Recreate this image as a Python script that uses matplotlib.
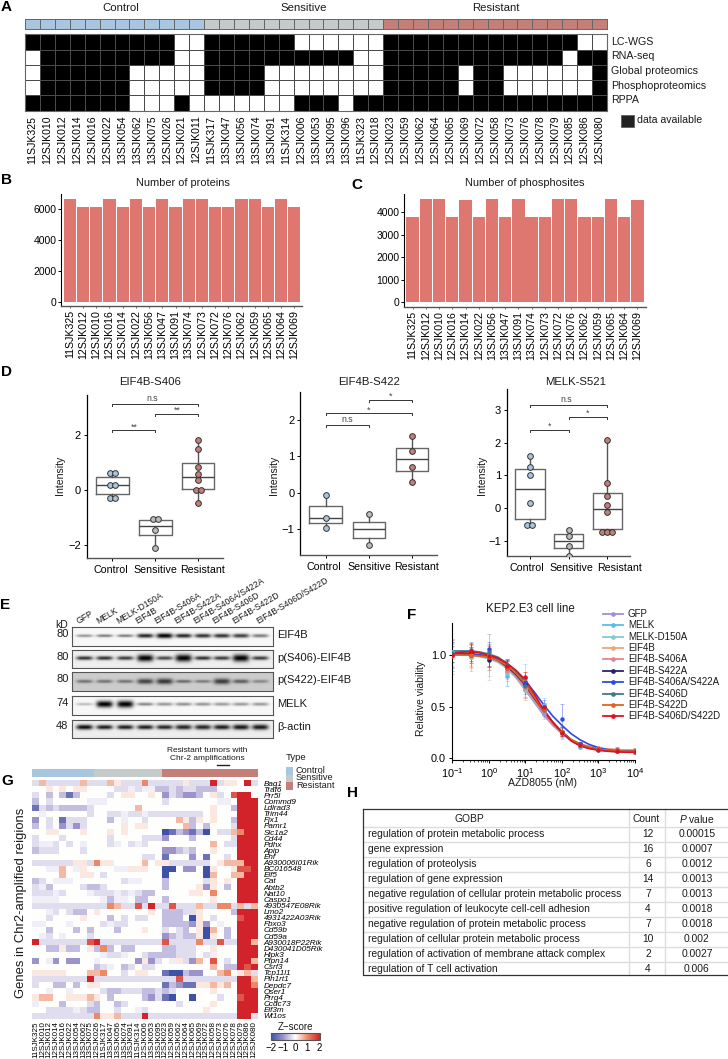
import numpy as np
import matplotlib
matplotlib.use("Agg")
import matplotlib.pyplot as plt
from matplotlib.colors import LinearSegmentedColormap, ListedColormap
from matplotlib.cm import ScalarMappable
from matplotlib.patches import Rectangle
from matplotlib.transforms import ScaledTranslation

plt.rcParams.update({
    "font.family": ["Liberation Sans", "DejaVu Sans"],
    "mathtext.fontset": "custom",
    "mathtext.rm": "Liberation Sans",
    "mathtext.it": "Liberation Sans:italic",
    "mathtext.bf": "Liberation Sans:bold",
    "mathtext.default": "regular",
    "text.color": "#1a1a1a",
})

W, H = 728, 1059

# ---------- data ----------
C_CTRL, C_SENS, C_RES = "#A9C6E0", "#C5CBCB", "#C57F79"

A_SAMPLES = ["11SJK325","12SJK010","12SJK012","12SJK014","12SJK016","12SJK022","13SJK054","13SJK062","13SJK075","12SJK026","12SJK021","12SJK011",
             "11SJK317","13SJK047","13SJK056","13SJK074","13SJK091","11SJK314","12SJK006","13SJK053","13SJK095","13SJK096","11SJK323","12SJK018",
             "12SJK023","12SJK059","12SJK062","12SJK064","12SJK065","12SJK069","12SJK072","12SJK058","12SJK073","12SJK076","12SJK078","12SJK079","12SJK085","12SJK086","12SJK080"]
A_GROUP = [0]*12 + [1]*12 + [2]*15
A_ROWS = ["LC-WGS", "RNA-seq", "Global proteomics", "Phosphoproteomics", "RPPA"]
A_WGS   = "111111111100" "111111000000" "111111111111100"
A_RNA   = "011111111100" "111111111100" "111111111111011"
A_PROT  = "011111100000" "111100000000" "111110110000001"
A_PHOS  = "011111100000" "111100000000" "111110110000001"
A_RPPA  = "111111100010" "000000111011" "111111111111111"

BC_SAMPLES = ["11SJK325","12SJK012","12SJK010","12SJK016","12SJK014","12SJK022","13SJK056","13SJK047","13SJK091","13SJK074",
              "12SJK073","12SJK072","12SJK076","12SJK062","12SJK059","12SJK065","12SJK064","12SJK069"]
B_PROTEINS = [6650,6120,6120,6650,6120,6650,6120,6650,6120,6650,6650,6120,6120,6650,6650,6120,6650,6120]
C_PHOSPHO = [3780,4580,4580,3780,4550,3770,4580,3780,4580,3780,3780,4580,4580,3780,3780,4580,3780,4550]

D_CATS = ["Control", "Sensitive", "Resistant"]
D1_PTS = [[0.63,0.63,0.18,0.18,-0.28,-0.28], [-1.07,-1.07,-1.47,-2.13], [1.85,1.5,0.85,0.6,0.35,0.0,0.0,-0.48]]
D1_BOX = [(-0.13,0.18,0.47), (-1.65,-1.3,-1.1), (0.03,0.47,1.0)]
D1_BRK = [(0,2,3.14,"n.s"), (1,2,2.79,"**"), (0,1,2.19,"**")]
D2_PTS = [[-0.06,-0.68,-0.96], [-0.57,-1.44], [1.55,1.14,0.71,0.30]]
D2_BOX = [(-0.82,-0.68,-0.37), (-1.23,-1.0,-0.8), (0.61,0.92,1.24)]
D2_BRK = [(1,2,2.56,"*"), (0,2,2.18,"*"), (0,1,1.87,"n.s")]
D3_PTS = [[1.6,1.24,1.02,0.14,-0.52,-0.52], [-0.68,-0.86,-1.15,-1.48], [2.08,0.77,0.38,0.08,-0.13,-0.72,-0.72,-0.72]]
D3_BOX = [(-0.33,0.58,1.2), (-1.23,-1.0,-0.8), (-0.65,-0.02,0.47)]
D3_BRK = [(0,2,3.14,"n.s"), (1,2,2.78,"*"), (0,1,2.4,"*")]

E_LANES = ["GFP","MELK","MELK-D150A","EIF4B","EIF4B-S406A","EIF4B-S422A","EIF4B-S406A/S422A","EIF4B-S406D","EIF4B-S422D","EIF4B-S406D/S422D"]
E_NAMES = ["EIF4B","p(S406)-EIF4B","p(S422)-EIF4B","MELK","β-actin"]
E_KD = ["80","80","80","74","48"]
E_BG = [0.97,0.93,0.80,0.97,0.93]
E_EIF4B = [0.40,0.50,0.50,0.85,1.00,0.85,0.80,0.80,0.75,0.50]
E_S406  = [0.80,0.80,0.75,1.00,0.70,1.00,0.80,0.75,1.00,0.75]
E_S422  = [0.45,0.45,0.45,0.68,0.75,0.50,0.42,0.72,0.55,0.35]
E_MELK  = [0.25,1.00,1.00,0.45,0.40,0.42,0.40,0.38,0.38,0.38]
E_ACTIN = [0.95,0.88,0.88,0.88,0.85,0.85,0.85,0.88,0.90,0.90]
E_THICK_EIF4B = [1.4,1.4,1.4,2.0,2.4,2.0,2.0,2.0,2.0,1.7]
E_THICK_S406  = [1.9,1.9,1.9,3.3,1.9,3.5,1.9,1.9,3.5,1.9]
E_THICK_S422  = [1.7,1.7,1.7,2.6,2.8,1.6,1.5,2.8,2.0,1.6]
E_THICK_MELK  = [1.3,3.2,3.4,1.6,1.6,1.6,1.6,1.6,1.6,1.6]
E_THICK_ACTIN = [2.4,2.2,2.2,2.2,2.2,2.4,2.4,2.4,2.6,2.6]

F_NAMES = ["GFP","MELK","MELK-D150A","EIF4B","EIF4B-S406A","EIF4B-S422A","EIF4B-S406A/S422A","EIF4B-S406D","EIF4B-S422D","EIF4B-S406D/S422D"]
F_COLORS = ["#A58CD6","#56BDEE","#84CBD0","#EFA57E","#E88189","#2D1F6B","#2E4BE0","#3F7A8C","#E2631F","#E0101F"]
F_DOSES = [0.1,0.316,1,3.16,10,31.6,100,316,1000,3162,10000]
F_MEANS = [
 [1.01,.98,.96,.85,.66,.43,.25,.13,.09,.08,.07],
 [1.03,1.0,1.0,.80,.75,.52,.25,.11,.08,.08,.06],
 [1.0,.98,.95,.83,.66,.46,.26,.13,.09,.08,.07],
 [1.02,1.0,.98,.87,.68,.47,.25,.14,.10,.09,.08],
 [1.0,.99,.97,.85,.68,.46,.26,.14,.10,.09,.08],
 [1.01,1.03,.95,.88,.72,.48,.26,.14,.09,.07,.07],
 [1.0,1.0,1.06,.87,.74,.50,.38,.14,.09,.08,.07],
 [1.02,1.05,1.03,.90,.70,.47,.26,.13,.09,.08,.07],
 [.99,1.0,.98,.87,.78,.48,.26,.13,.09,.08,.07],
 [1.0,1.04,.99,.89,.79,.50,.25,.13,.08,.07,.06],
]
F_ERRS = [
 [.12,.13,.08,.10,.08,.05,.06,.03,.02,.01,.01],
 [.10,.08,.20,.10,.16,.06,.05,.02,.01,.01,.01],
 [.08,.10,.09,.13,.07,.05,.04,.02,.01,.01,.01],
 [.14,.07,.22,.09,.10,.05,.04,.02,.02,.02,.02],
 [.12,.12,.08,.08,.11,.06,.05,.02,.02,.02,.02],
 [.08,.09,.07,.06,.06,.04,.04,.02,.01,.01,.01],
 [.13,.08,.07,.08,.06,.07,.15,.02,.01,.01,.01],
 [.09,.08,.08,.05,.08,.04,.03,.02,.01,.01,.01],
 [.17,.11,.12,.07,.06,.05,.04,.02,.01,.01,.02],
 [.15,.06,.10,.07,.05,.04,.03,.02,.01,.01,.02],
]
F_FIT_LOGDOSE = [-1,-.75,-.5,-.25,0,.25,.5,.75,1,1.25,1.5,1.75,2,2.25,2.5,2.75,3,3.25,3.5,3.75,4]
F_FITS = [
 [1.01,1.01,1.00,.99,.97,.94,.87,.78,.66,.54,.42,.32,.24,.175,.13,.105,.09,.08,.075,.07,.07],
 [1.02,1.02,1.01,1.0,.98,.95,.89,.81,.71,.59,.47,.35,.25,.175,.125,.10,.08,.07,.065,.06,.06],
 [1.00,1.00,.995,.985,.965,.93,.87,.78,.67,.55,.44,.33,.25,.18,.135,.105,.09,.08,.075,.07,.07],
 [1.02,1.02,1.01,1.0,.98,.95,.89,.81,.69,.57,.45,.34,.25,.185,.14,.115,.10,.09,.085,.08,.08],
 [1.01,1.01,1.0,.99,.975,.94,.88,.79,.68,.56,.44,.33,.25,.185,.14,.115,.10,.09,.085,.08,.08],
 [1.02,1.02,1.01,1.0,.985,.95,.89,.81,.71,.58,.46,.35,.26,.18,.135,.105,.09,.075,.07,.07,.07],
 [1.01,1.01,1.01,1.0,.99,.96,.91,.84,.75,.64,.52,.41,.32,.24,.18,.135,.105,.085,.075,.07,.065],
 [1.04,1.04,1.04,1.03,1.01,.98,.92,.84,.73,.60,.47,.35,.25,.18,.13,.10,.085,.075,.07,.065,.065],
 [1.0,1.0,1.0,.99,.98,.95,.90,.82,.72,.59,.46,.35,.255,.18,.135,.105,.09,.08,.075,.07,.07],
 [1.02,1.03,1.03,1.02,1.0,.97,.92,.85,.76,.62,.47,.35,.25,.17,.12,.095,.08,.07,.065,.06,.06],
]

G_SAMPLES = ["11SJK325","12SJK010","12SJK012","12SJK014","12SJK016","12SJK022","13SJK054","13SJK062","13SJK075",
             "12SJK026","11SJK317","13SJK047","13SJK056","13SJK074","13SJK091","11SJK314","12SJK006","13SJK053","13SJK095",
             "12SJK023","12SJK059","12SJK062","12SJK064","12SJK065","12SJK069","12SJK072","12SJK058","12SJK073","12SJK076","12SJK078","12SJK079","12SJK086","12SJK080"]
G_GROUP = [0]*9 + [1]*10 + [2]*14
G_GENES = ["Bag1","Traf6","Prr5l","Commd9","Ldlrad3","Trim44","Fjx1","Pamr1","Slc1a2","Cd44","Pdhx","Apip","Ehf","A930006I01Rik","BC016548","Elf5","Cat","Abtb2","Nat10","Caspo1",
           "4930547E08Rik","Lmo2","4931422A03Rik","Fbxo3","Cd59b","Cd59a","A930018P22Rik","D430041D05Rik","Hipk3","Ptpn14","Csrf3","Tcp11l1","Pin1rt1","Depdc7","Qser1","Prrg4","Ccdc73","Eif3m","Wt1os"]
G_LEVELS = {"a":-2,"b":-1.5,"c":-1,"d":-.6,"e":-.3,"f":-.15,".":0,"g":.2,"h":.6,"i":1,"j":1.5,"k":2}
G_ROWS = [
 "eheeeeehe"+"eehgeeeiee"+"eeegeeekegg.ke",
 "..g.g.gg."+"...eefeffd"+"dedeeddd.....k"[:13]+".",
 "e.d.dbd.."+"..e.gg..g."+"cedccd.ge.jkk.",
 "d.e.....f"+"ff........"+"e.......ff.kkk",
 "bededddde"+"......h..."+".......g..dkkk",
 ".f......e"+"..eefeefee"+"eeeeee.g...kkk",
 "c.e.beee."+"..d.f..e.."+"..hgdg.g..dkkk",
 "d.e.cece."+"....g.gg.."+"...hd.d...ekkk",
 "..gg...g."+"..g.g....."+"abdcbda.eehikk",
 "e...e...."+"..e....eee"+"c...d.....ekkk",
 "effe.e.f."+"..ef.efe.."+".......h.eekkk",
 "deee...e."+".........."+"ccded..g...kkk",
 "........."+".......ee."+"b...c.b..e.kkk",
 "eeeeeegge"+"igg....h.g"+"geeeeee.ghhhkk",
 "..ffh.fg."+"...ffggg.."+"aa.cc.ag..gjjk",
 "....h..gg"+".e........"+"a.....ah..hhkk",
 "de.fff..."+"....eff..."+"d.....eg.g.kkk",
 "efd....ed"+"de........"+"d....gcg.d.kkk",
 "eeefe...f"+"eeefefedd."+"....gg.i...kkk",
 "ffff....."+".fdff.dd.."+"d......g...kkk",
 "eeeeeeeee"+"eeiheejeke"+"ejeeeheeiieheh",
 "..fe.edd."+"g.......g."+"dddeeg....dkkk",
 "..e....g."+"..d.e.ee.."+"ddd.ag.e...jkk",
 "ff...f..."+".efee....."+"ddddcgc.f..kkk",
 "..d...d.d"+"...d...g.."+"e.ed.gah.d.kkk",
 ".fe.f...e"+".........."+"cdeddgag.d.kkk",
 "keeeeeeej"+"keeeeeeeee"+"jeeeeieejeekkh",
 "..ddgdd.g"+"did.dd...."+"ddeee..g...kkk",
 "........."+".feef..edd"+"ddeee.ef...kkk",
 "c.fc.cc.."+"f.....cgce"+".fgech.j.e.kkh",
 "........."+"def.de.ee."+".......h.ddkjk",
 "ggggg...h"+"hi..e.gg.."+"baadcc..hi.ghe",
 "eeeeeeeek"+"eeeeeeeeee"+"eejeeeeeeeekkh",
 "e..dd.d.g"+"g........."+"bdcbbgghgh.kki",
 "..f..f..."+".eddeeedde"+"de.....g...kkk",
 "ghh..gggh"+"g.d....dce"+"ba..a...e..jkk",
 "f...d...e"+"d..de....."+"..e....g...kkk",
 "..eeeefed"+"d..e..fe.."+"......g....kkk",
 "eeeeeeeee"+"igghee" "ekee"+"eeeeeeeeeeekke",
]

H_TERMS = ["regulation of protein metabolic process","gene expression","regulation of proteolysis","regulation of gene expression",
           "negative regulation of cellular protein metabolic process","positive regulation of leukocyte cell-cell adhesion",
           "negative regulation of protein metabolic process","regulation of cellular protein metabolic process",
           "regulation of activation of membrane attack complex","regulation of T cell activation"]
H_COUNTS = [12,16,6,14,7,4,7,10,2,4]
H_PVALS = ["0.00015","0.0007","0.0012","0.0013","0.0013","0.0018","0.0018","0.002","0.0027","0.006"]

# ---------- helpers ----------
fig = plt.figure(figsize=(W/100, H/100), dpi=100, facecolor="white")

def axpx(x0, y0, x1, y1, **kw):
    return fig.add_axes([x0/W, 1-y1/H, (x1-x0)/W, (y1-y0)/H], **kw)

ov = axpx(0, 0, W, H, zorder=20)
ov.set_xlim(0, W); ov.set_ylim(H, 0); ov.axis("off"); ov.patch.set_alpha(0)

def label(x, y, s, size=7.6, ha="left", va="center", **kw):
    ov.text(x, y, s, fontsize=size, ha=ha, va=va, **kw)

for s, x, y in [("A",1,7),("B",1,180),("C",351,185),("D",1,372),("E",0,605),("F",407,615),("G",1,781),("H",347,793)]:
    label(x, y, s, size=11, fontweight="bold", color="black")

# ---------- A ----------
ax = axpx(25, 19, 607, 29)
ax.pcolormesh(np.array([A_GROUP]), cmap=ListedColormap([C_CTRL, C_SENS, C_RES]), vmin=0, vmax=2, edgecolors="#666666", linewidth=0.4)
ax.set_xticks([]); ax.set_yticks([])
for sp in ax.spines.values(): sp.set_color("#666666"); sp.set_linewidth(0.7)
for s, x in [("Control",121),("Sensitive",304),("Resistant",496)]:
    label(x, 8, s, size=8.2, ha="center")

ax = axpx(25, 34.3, 607, 110.7)
A_MAT = np.array([[int(c) for c in r] for r in [A_WGS, A_RNA, A_PROT, A_PHOS, A_RPPA]])
ax.pcolormesh(A_MAT, cmap=ListedColormap(["white", "black"]), vmin=0, vmax=1, edgecolors="#4a4a4a", linewidth=0.45)
ax.set_ylim(5, 0)
ax.set_xticks(np.arange(len(A_SAMPLES))+.5, A_SAMPLES, rotation=90, fontsize=7.6)
ax.set_yticks([])
ax.tick_params(axis="x", length=0, pad=3.5)
for sp in ax.spines.values(): sp.set_color("#666666"); sp.set_linewidth(0.8)
for s, y in zip(A_ROWS, [42,56,71,86,100]):
    label(611, y, s, size=7.7)
ov.add_patch(Rectangle((621,115), 13, 12, fc="#222222", ec="#555555", lw=0.5))
label(637, 120, "data available", size=7.6)

# ---------- B, C ----------
BAR = "#DD7770"
def barpanel(box, xlim, ylim, vals, ticks, title, tx):
    ax = axpx(*box)
    ax.bar(range(len(vals)), vals, width=0.93, color=BAR)
    ax.set_xlim(*xlim); ax.set_ylim(*ylim)
    ax.set_xticks(range(len(vals)), BC_SAMPLES, rotation=90, fontsize=7.7)
    ax.set_yticks(ticks); ax.tick_params(axis="y", labelsize=7.5, length=2, pad=1.5, width=.7)
    ax.tick_params(axis="x", length=1.5, pad=1.5, width=.6, color="#555555")
    for s in ["top","right"]: ax.spines[s].set_visible(False)
    ax.spines["left"].set_linewidth(.8); ax.spines["bottom"].set_linewidth(1.0); ax.spines["bottom"].set_color("#555555")
    label(tx, 182.5, title, size=7.9, ha="center")

barpanel((61.3,194,302,306), (-.65,17.58), (-239,6987), B_PROTEINS, [0,2000,4000,6000], "Number of proteins", 183)
barpanel((404.3,194,646,306.7), (-.63,17.65), (-196,4813), C_PHOSPHO, [0,1000,2000,3000,4000], "Number of phosphosites", 525)

# ---------- D ----------
D_COLS = [C_CTRL, "#BDBDBD", C_RES]
def box_h(b): return b[3]-b[1]

def boxpanel(box, ylim, spacing, pts, boxes, brk, yticks, title, tx, ylx, lab_dx):
    ax = axpx(*box)
    stats = []
    for p, (q1, m, q3) in zip(pts, boxes):
        stats.append(dict(med=m, q1=q1, q3=q3, whislo=min(p), whishi=max(p), fliers=[]))
    ax.bxp(stats, positions=[0,1,2], widths=.76, showfliers=False, showcaps=False,
           boxprops=dict(color="#666666", lw=1), medianprops=dict(color="#444444", lw=1),
           whiskerprops=dict(color="#555555", lw=1))
    off = 5.0/spacing
    for i, p in enumerate(pts):
        for v in sorted(set(p)):
            n = p.count(v)
            xs = [i + (k-(n-1)/2)*off for k in range(n)]
            ax.scatter(xs, [v]*n, s=17, color=D_COLS[i], edgecolor="#333333", linewidth=.7, zorder=5)
    ax.set_xlim(-.6, 2.58); ax.set_ylim(*ylim)
    tip = (ylim[1]-ylim[0])/box_h(box)*2
    for a, b, y, s in brk:
        ax.plot([a,a,b,b],[y-tip,y,y,y-tip], color="#333333", lw=.7)
        ax.annotate(s, ((a+b)/2 - (.07 if s=="n.s" and b-a==2 else 0), y), xytext=(0, .8 if s=="n.s" else -.8), textcoords="offset points",
                    ha="center", va="bottom", fontsize=6.3, color="#444444")
    ax.set_xticks([0,1,2], D_CATS, fontsize=7.7)
    ax.set_yticks(yticks); ax.tick_params(axis="y", labelsize=8, length=2, pad=2, width=.7)
    ax.tick_params(axis="x", length=2, pad=3, width=.7)
    for t, dx in zip(ax.get_xticklabels(), lab_dx):
        t.set_transform(t.get_transform() + ScaledTranslation(dx/100, 0, fig.dpi_scale_trans))
    for s in ["top","right"]: ax.spines[s].set_visible(False)
    ax.spines["left"].set_linewidth(.9); ax.spines["bottom"].set_linewidth(1.0); ax.spines["bottom"].set_color("#555555")
    label(tx, 381.7, title, size=8.2, ha="center")
    label(ylx, 475, "Intensity", size=7.6, ha="center", rotation=90)

boxpanel((86.7,395,223,558), (-2.49,3.48), 43, D1_PTS, D1_BOX, D1_BRK, [-2,0,2], "EIF4B-S406", 150, 59.5, (-1.3,-.3,4.3))
boxpanel((300,392,437,555), (-1.71,2.77), 43, D2_PTS, D2_BOX, D2_BRK, [-1,0,1,2], "EIF4B-S422", 369, 274, (-1.7,0,4.7))
boxpanel((506.7,389,629.7,555.7), (-1.46,3.64), 38.5, D3_PTS, D3_BOX, D3_BRK, [-1,0,1,2,3], "MELK-S521", 575.7, 482, (-3.4,2.7,12.3))

# ---------- E ----------
E_FRAMES = [(626.7,646),(649.7,668),(671.7,690.7),(695.7,715),(720,738.3)]
E_CENTER = [.48,.47,.48,.45,.42]
E_DARK = [E_EIF4B,E_S406,E_S422,E_MELK,E_ACTIN]
E_THICK = [E_THICK_EIF4B,E_THICK_S406,E_THICK_S422,E_THICK_MELK,E_THICK_ACTIN]
x0, x1 = 72, 273
lane_x = np.array([253,313,375,435,493,550,608,665,722,780])/3
for (y0, y1), c, dark, thick, bg in zip(E_FRAMES, E_CENTER, E_DARK, E_THICK, E_BG):
    ax = axpx(x0, y0, x1, y1)
    xx, yy = np.meshgrid(np.arange(x0, x1, .5), np.arange(y0, y1, .5))
    img = np.full(xx.shape, bg, dtype=float)
    yc = y0 + c*(y1-y0)
    for lx, d, t in zip(lane_x, dark, thick):
        img -= d*np.exp(-((yy-yc)/t)**2)*np.exp(-((xx-lx)/8.2)**4)*bg
    ax.imshow(np.clip(img,0,1), cmap="gray", vmin=0, vmax=1, aspect="auto", extent=(x0,x1,y1,y0), interpolation="bilinear")
    ax.set_xticks([]); ax.set_yticks([])
    for sp in ax.spines.values(): sp.set_color("#555555"); sp.set_linewidth(.8)
for s, (y0, y1), c, lab in zip(E_NAMES, E_FRAMES, E_CENTER, E_KD):
    label(277, y0+c*(y1-y0)-.5, s, size=8)
    label(68.5, y0+c*(y1-y0)-1.5, lab, size=8, ha="right")
label(68, 625, "kD", size=7.5, ha="right")
for s, zx in zip(E_LANES, [238,298,358,415,473,531,589,647,705,778]):
    ov.text(zx/3, 625.5, s, fontsize=6.2, rotation=31, rotation_mode="anchor", ha="left", va="bottom")

# ---------- F ----------
ax = axpx(452.3, 623, 635, 759.5)
for m, e, f, col in zip(F_MEANS, F_ERRS, F_FITS, F_COLORS):
    ax.errorbar(F_DOSES, m, yerr=e, fmt="none", ecolor=col, alpha=.5, elinewidth=.6, capsize=1.4, capthick=.5, zorder=2)
    ax.plot(10**np.array(F_FIT_LOGDOSE), f, color=col, lw=1.2, zorder=3)
    ax.plot(F_DOSES, m, ls="none", marker="o", ms=3.2, color=col, mew=0, zorder=4)
ax.set_xscale("log"); ax.set_xlim(.1, 1e4); ax.set_ylim(-.01, 1.31)
ax.set_yticks([0,.5,1.0], ["0.0","0.5","1.0"])
ax.set_xticks([.1,1,10,100,1000,10000], ["$10^{-1}$","$10^{0}$","$10^{1}$","$10^{2}$","$10^{3}$","$10^{4}$"])
ax.tick_params(axis="both", labelsize=7.8, length=2.5, width=.7, pad=2)
ax.tick_params(axis="x", which="minor", length=1.5, width=.5)
for s in ["top","right"]: ax.spines[s].set_visible(False)
ax.patch.set_alpha(0)
label(530, 609.5, "KEP2.E3 cell line", size=8.3, ha="center")
label(421.5, 698, "Relative viability", size=7.5, ha="center", rotation=90)
label(542, 783, "AZD8055 (nM)", size=7.6, ha="center")
for i, (s, col) in enumerate(zip(F_NAMES, F_COLORS)):
    y = 614 + i*11.37
    ov.plot([602.7,622.7],[y,y], color=col, lw=1.3)
    ov.plot([612.7],[y], marker="o", ms=3.4, color=col, mew=0)
    label(628, y, s, size=7)

# ---------- G ----------
ax = axpx(32.3, 769, 257.5, 776.7)
ax.imshow(np.array([G_GROUP]), cmap=ListedColormap([C_CTRL, C_SENS, C_RES]), vmin=0, vmax=2, aspect="auto", interpolation="nearest")
ax.axis("off")
label(207, 750.7, "Resistant tumors with", size=6, ha="center")
label(207.5, 758, "Chr-2 amplifications", size=6, ha="center")
ov.plot([216.7,229],[764.7,764.7], color="#222222", lw=1)
label(286, 758, "Type", size=6.8)
for i, (s, col) in enumerate(zip(D_CATS, [C_CTRL, C_SENS, C_RES])):
    ov.add_patch(Rectangle((286.3, 767+i*7.6), 6.8, 7.6, fc=col, ec="none"))
    label(296, 770.3+i*7.4, s, size=6.6)

HEAT_CMAP = LinearSegmentedColormap.from_list("z", [(0,"#3D52A6"),(.25,"#9C93CB"),(.5,"#FFFFFF"),(.75,"#EE8A68"),(1,"#D2232A")])
G_MAT = np.array([[G_LEVELS[c] for c in r.ljust(33,".")[:33]] for r in G_ROWS], dtype=float)
ax = axpx(32.3, 780, 257.5, 1018.7)
ax.imshow(G_MAT, cmap=HEAT_CMAP, vmin=-2, vmax=2, aspect="auto", interpolation="nearest")
ax.set_xticks(range(33), G_SAMPLES, rotation=90, fontsize=5.8)
ax.yaxis.tick_right()
ax.set_yticks(range(39), G_GENES, fontsize=5.9, style="italic")
ax.tick_params(length=0, pad=2)
ax.tick_params(axis="y", pad=4.5)
for sp in ax.spines.values(): sp.set_visible(False)
label(21, 903, "Genes in Chr2-amplified reigions", size=9.4, ha="center", rotation=90)

cax = axpx(271, 1032.7, 319.5, 1040)
cb = fig.colorbar(ScalarMappable(cmap=HEAT_CMAP, norm=plt.Normalize(-2,2)), cax=cax, orientation="horizontal")
cb.set_ticks([-2,-1,0,1,2]); cb.ax.tick_params(labelsize=7, length=0, pad=2.5)
cb.outline.set_edgecolor("#555555"); cb.outline.set_linewidth(.8)
label(295, 1027.5, "Z−score", size=7, ha="center")

# ---------- H ----------
tl, tr, tt, tb = 362.5, 727.5, 808.5, 975
sep1, sep2 = 629.3, 665
row_y = [834 + i*15 for i in range(10)]
for y in [826.5] + [r+7.5 for r in row_y[:-1]]:
    ov.plot([tl,tr],[y,y], color="#dddddd", lw=1)
ov.plot([sep1,sep1],[tt,tb], color="#dddddd", lw=1)
ov.plot([sep2,sep2],[tt,tb], color="#dddddd", lw=1)
ov.plot([tl,tl,tr],[tt,tb,tb], color="#333333", lw=.9)
ov.plot([tl,tr],[tt,tt], color="#333333", lw=.9)
label(469, 819, "GOBP", size=7.4, ha="center")
label(646.5, 819, "Count", size=7.4, ha="center")
label(697, 819, "$\\it{P}$ value", size=7.4, ha="center")
for y, t, n, p in zip(row_y, H_TERMS, H_COUNTS, H_PVALS):
    label(368, y, t, size=7.35)
    label(648, y, str(n), size=7.4, ha="center")
    label(697, y, p, size=7.4, ha="center")

fig.savefig("out.png", dpi=100)
